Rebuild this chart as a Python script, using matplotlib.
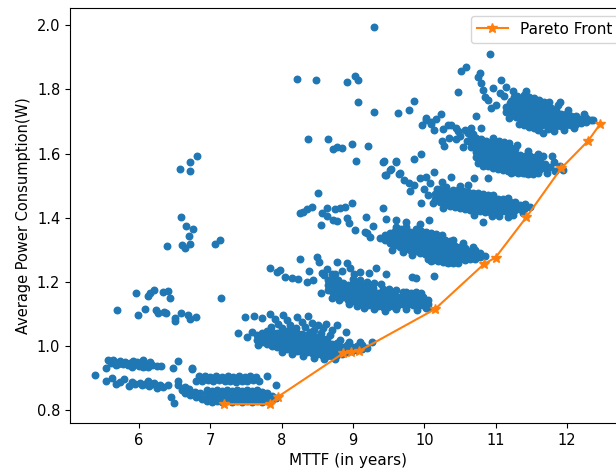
import matplotlib
matplotlib.use("Agg")
import matplotlib.pyplot as plt

# ---- scattered solutions ----
outliers = [(9.30, 1.995), (8.22, 1.832), (8.48, 1.829), (8.92, 1.822), (9.03, 1.843), (9.07, 1.831),
            (9.07, 1.762), (9.30, 1.730), (9.63, 1.727), (9.79, 1.736), (9.85, 1.764), (10.48, 1.793),
            (10.51, 1.858), (10.59, 1.871), (10.92, 1.911), (8.37, 1.644), (8.65, 1.646), (8.72, 1.615),
            (8.77, 1.621), (8.85, 1.618), (8.98, 1.629), (9.21, 1.623), (9.04, 1.577), (9.43, 1.576),
            (9.61, 1.577), (9.85, 1.582), (9.95, 1.599), (9.46, 1.532), (9.53, 1.551), (9.66, 1.539),
            (6.81, 1.591), (6.71, 1.574), (6.71, 1.547), (6.58, 1.551), (6.59, 1.401), (6.66, 1.374),
            (6.76, 1.364), (6.70, 1.342), (6.72, 1.318), (6.60, 1.314), (6.64, 1.305), (6.39, 1.312),
            (7.06, 1.317), (7.14, 1.331), (7.15, 1.151), (5.95, 1.164), (6.13, 1.157), (6.15, 1.164),
            (6.21, 1.175), (6.34, 1.170), (6.40, 1.171), (6.43, 1.149), (5.69, 1.112), (5.99, 1.097),
            (6.08, 1.115), (6.23, 1.112), (6.26, 1.102), (6.35, 1.107), (6.38, 1.104), (6.50, 1.087),
            (6.51, 1.078), (6.59, 1.102), (6.68, 1.097), (6.71, 1.083), (6.80, 1.089)]

band_a = [(5.57, 0.955), (5.60, 0.948), (5.63, 0.957), (5.66, 0.950), (5.70, 0.945), (5.73, 0.952),
          (5.77, 0.943), (5.80, 0.950), (5.84, 0.940), (5.87, 0.947), (5.91, 0.954), (5.94, 0.943),
          (5.97, 0.950), (6.00, 0.938), (6.03, 0.948), (6.06, 0.955), (6.09, 0.942), (6.12, 0.936),
          (6.15, 0.950), (6.18, 0.940), (5.54, 0.933), (6.25, 0.938), (6.30, 0.937), (6.48, 0.932),
          (6.55, 0.953), (5.38, 0.909), (5.68, 0.940), (5.90, 0.935), (6.05, 0.935),
          (5.54, 0.891), (5.62, 0.899), (5.68, 0.881), (5.79, 0.897), (5.86, 0.876), (5.94, 0.883),
          (6.01, 0.886), (6.04, 0.878), (6.12, 0.891), (6.14, 0.876), (6.18, 0.882), (6.25, 0.868),
          (6.29, 0.878), (6.33, 0.872), (6.41, 0.880), (6.54, 0.880), (6.55, 0.892), (5.73, 0.888),
          (5.90, 0.887), (6.08, 0.883), (6.45, 0.842), (6.49, 0.823), (6.64, 0.873), (6.74, 0.928),
          (6.21, 0.886)]

band_b = [(6.84, 0.905), (6.92, 0.907), (7.00, 0.903), (7.08, 0.906), (7.16, 0.904), (7.24, 0.907),
          (7.32, 0.903), (7.40, 0.905), (7.48, 0.902), (7.56, 0.906), (7.64, 0.903),
          (6.80, 0.892), (6.88, 0.890), (6.96, 0.893), (7.04, 0.891), (7.12, 0.893), (7.20, 0.890),
          (7.28, 0.892), (7.36, 0.889), (7.44, 0.892), (7.52, 0.890), (7.60, 0.893), (7.68, 0.891),
          (7.80, 0.906), (7.92, 0.880), (6.74, 0.930),
          (6.60, 0.862), (6.65, 0.855), (6.70, 0.865), (6.72, 0.848), (6.78, 0.858), (6.80, 0.842),
          (6.85, 0.852), (6.88, 0.835)]

# dense groups: (MTTF, [power values])
core_b = [(6.95, [0.828, 0.840, 0.852, 0.864]), (7.02, [0.824, 0.836, 0.848, 0.860]),
          (7.09, [0.828, 0.840, 0.852, 0.864]), (7.16, [0.824, 0.836, 0.848, 0.860]),
          (7.23, [0.828, 0.840, 0.852, 0.864]), (7.30, [0.824, 0.836, 0.848, 0.860]),
          (7.37, [0.828, 0.840, 0.852, 0.864]), (7.44, [0.824, 0.836, 0.848, 0.860]),
          (7.51, [0.828, 0.840, 0.852, 0.864]), (7.58, [0.824, 0.836, 0.848, 0.860]),
          (7.65, [0.828, 0.840, 0.852, 0.862]), (7.72, [0.824, 0.836, 0.848, 0.858]),
          (7.79, [0.828, 0.840, 0.852]), (7.86, [0.832, 0.845]), (7.92, [0.838])]

core_c = [(7.65, [1.020, 1.035]), (7.72, [1.012, 1.027, 1.042]), (7.79, [1.005, 1.020, 1.035]),
          (7.86, [1.000, 1.015, 1.030, 1.045]), (7.93, [0.998, 1.012, 1.027, 1.040]),
          (8.00, [0.995, 1.008, 1.022, 1.036]), (8.07, [0.990, 1.004, 1.018, 1.032, 1.046]),
          (8.14, [0.987, 1.001, 1.015, 1.029, 1.043]), (8.21, [0.985, 0.998, 1.012, 1.026, 1.040]),
          (8.28, [0.982, 0.995, 1.009, 1.023, 1.037]), (8.35, [0.980, 0.993, 1.006, 1.020, 1.034]),
          (8.42, [0.977, 0.990, 1.003, 1.017, 1.031]), (8.49, [0.975, 0.988, 1.001, 1.014, 1.028]),
          (8.56, [0.972, 0.985, 0.998, 1.011, 1.025]), (8.63, [0.970, 0.983, 0.996, 1.009, 1.022]),
          (8.70, [0.970, 0.982, 0.995, 1.007]), (8.77, [0.972, 0.984, 0.996, 1.008]),
          (8.84, [0.975, 0.986, 0.998]), (8.91, [0.980, 0.992, 1.004]), (8.98, [0.985, 0.997]),
          (9.05, [0.988, 1.000]), (9.12, [0.990, 1.002]), (9.19, [0.995])]

loose_c = [(7.39, 1.042), (7.49, 1.089), (7.61, 1.094), (7.72, 1.086), (7.51, 1.029), (7.58, 1.044),
           (7.67, 1.003), (7.84, 1.100), (7.90, 1.085), (7.95, 1.070), (8.02, 1.096), (8.08, 1.082),
           (8.12, 1.065), (8.21, 1.089), (8.28, 1.075), (8.37, 1.093), (8.33, 1.060), (8.42, 1.072),
           (8.51, 1.065), (8.58, 1.055), (8.62, 1.068), (8.70, 1.050), (8.77, 1.065), (8.90, 1.044),
           (9.26, 1.013), (7.85, 1.060), (8.00, 1.055), (8.20, 1.055), (8.45, 1.050),
           (8.00, 0.982), (8.15, 0.974), (8.30, 0.968), (8.45, 0.963), (8.60, 0.960), (8.75, 0.961),
           (8.40, 1.045), (8.55, 1.040), (8.68, 1.034), (8.82, 1.020), (8.95, 1.012), (9.10, 1.012),
           (7.80, 1.048)]

loose_d = [(7.84, 1.242), (7.93, 1.232), (7.98, 1.236), (8.05, 1.216), (8.14, 1.211), (8.23, 1.208),
           (8.35, 1.201), (8.44, 1.206), (8.26, 1.270), (8.39, 1.235), (8.50, 1.278), (8.53, 1.263),
           (8.56, 1.229), (8.55, 1.166), (8.78, 1.261), (8.92, 1.258), (8.96, 1.242), (8.63, 1.240),
           (8.70, 1.225), (8.85, 1.235), (9.02, 1.225), (9.10, 1.232), (9.23, 1.227), (9.32, 1.242),
           (9.47, 1.224), (9.83, 1.216), (9.88, 1.213), (10.13, 1.218), (8.60, 1.220), (8.75, 1.225),
           (9.82, 1.165), (9.95, 1.165), (10.02, 1.120),
           (9.00, 1.210), (9.10, 1.206), (9.20, 1.200), (9.30, 1.196), (9.40, 1.192), (9.50, 1.178),
           (9.60, 1.176), (9.75, 1.170), (9.88, 1.168), (8.95, 1.130), (9.05, 1.124), (9.15, 1.120),
           (9.30, 1.114), (9.45, 1.110), (9.60, 1.114), (9.75, 1.117), (9.90, 1.113), (10.05, 1.120),
           (8.80, 1.145), (8.70, 1.150)]

core_d = [(8.65, [1.175, 1.190, 1.205]), (8.72, [1.165, 1.180, 1.195, 1.210]),
          (8.79, [1.160, 1.175, 1.190, 1.205]), (8.86, [1.152, 1.167, 1.182, 1.197]),
          (8.93, [1.145, 1.160, 1.175, 1.190]), (9.00, [1.140, 1.154, 1.168, 1.182, 1.196]),
          (9.07, [1.136, 1.150, 1.164, 1.178, 1.192]), (9.14, [1.132, 1.146, 1.160, 1.174, 1.188]),
          (9.21, [1.128, 1.142, 1.156, 1.170, 1.184]), (9.28, [1.126, 1.140, 1.154, 1.168, 1.182]),
          (9.35, [1.124, 1.138, 1.152, 1.166]), (9.42, [1.122, 1.136, 1.150, 1.164, 1.178]),
          (9.49, [1.122, 1.135, 1.148, 1.162]), (9.56, [1.125, 1.138, 1.151, 1.164]),
          (9.63, [1.128, 1.141, 1.154]), (9.70, [1.130, 1.143, 1.156, 1.169]),
          (9.77, [1.130, 1.143, 1.156]), (9.84, [1.128, 1.141, 1.154]), (9.91, [1.125, 1.138, 1.150]),
          (9.98, [1.128, 1.140, 1.152]), (10.05, [1.132, 1.145])]

loose_e = [(8.63, 1.430), (8.75, 1.426), (8.72, 1.393), (8.78, 1.390), (8.91, 1.398), (8.99, 1.447),
           (8.89, 1.433), (8.95, 1.383), (9.03, 1.362), (9.18, 1.403), (9.17, 1.357), (9.28, 1.374),
           (9.24, 1.341), (9.42, 1.430), (9.46, 1.395), (9.38, 1.336), (9.61, 1.393), (9.75, 1.388),
           (9.94, 1.380), (10.06, 1.393), (9.86, 1.341), (8.25, 1.414), (8.30, 1.418), (8.36, 1.427),
           (8.43, 1.435), (8.51, 1.477), (8.57, 1.414), (8.55, 1.378), (8.64, 1.405), (8.82, 1.430),
           (9.20, 1.352), (10.10, 1.265), (10.30, 1.262),
           (10.05, 1.272), (10.12, 1.268), (10.19, 1.264), (10.26, 1.261), (10.33, 1.259), (10.40, 1.258),
           (10.47, 1.258), (9.60, 1.372), (9.67, 1.366), (9.74, 1.372), (9.88, 1.365), (9.95, 1.360),
           (10.02, 1.357), (10.09, 1.353), (10.16, 1.350), (10.25, 1.346), (10.40, 1.330), (10.55, 1.320),
           (10.68, 1.310), (9.55, 1.300), (9.70, 1.292), (9.83, 1.285)]

core_e = [(9.45, [1.330, 1.345]), (9.52, [1.322, 1.337, 1.352]), (9.59, [1.315, 1.330, 1.345, 1.360]),
          (9.66, [1.308, 1.322, 1.336, 1.350]), (9.73, [1.302, 1.316, 1.330, 1.344, 1.358]),
          (9.80, [1.298, 1.312, 1.326, 1.340, 1.354]), (9.87, [1.295, 1.309, 1.323, 1.337, 1.351]),
          (9.94, [1.290, 1.304, 1.318, 1.332, 1.346]), (10.01, [1.287, 1.301, 1.315, 1.329, 1.343]),
          (10.08, [1.283, 1.297, 1.311, 1.325, 1.339]), (10.15, [1.280, 1.294, 1.308, 1.322, 1.336]),
          (10.22, [1.277, 1.291, 1.305, 1.319, 1.333]), (10.29, [1.275, 1.289, 1.303, 1.317, 1.331]),
          (10.36, [1.272, 1.286, 1.300, 1.314, 1.328]), (10.43, [1.270, 1.284, 1.298, 1.312]),
          (10.50, [1.270, 1.283, 1.296, 1.309]), (10.57, [1.268, 1.281, 1.294, 1.307]),
          (10.64, [1.270, 1.283, 1.296]), (10.71, [1.272, 1.285, 1.298]), (10.78, [1.278, 1.291]),
          (10.85, [1.282])]

loose_f = [(9.64, 1.537), (9.71, 1.518), (9.78, 1.508), (9.85, 1.502), (9.94, 1.524), (10.03, 1.528),
           (10.13, 1.544), (10.08, 1.508), (9.52, 1.549), (9.45, 1.534), (9.42, 1.575), (9.61, 1.575),
           (9.80, 1.482), (9.96, 1.445), (10.12, 1.445), (10.37, 1.528), (10.50, 1.499), (10.62, 1.502),
           (10.70, 1.524), (10.90, 1.524), (10.82, 1.388), (11.18, 1.403), (10.00, 1.490), (10.05, 1.470),
           (10.18, 1.490), (10.25, 1.510),
           (10.40, 1.488), (10.47, 1.486), (10.54, 1.484), (10.61, 1.481), (10.68, 1.478), (10.75, 1.476),
           (10.82, 1.474), (10.89, 1.471), (10.96, 1.470), (11.03, 1.458), (11.10, 1.459), (11.17, 1.461),
           (10.95, 1.406), (11.05, 1.405), (11.25, 1.410), (11.38, 1.414), (10.70, 1.410), (10.30, 1.496),
           (10.26, 1.430)]

core_f = [(10.15, [1.460, 1.475]), (10.22, [1.448, 1.462, 1.476, 1.490]),
          (10.29, [1.440, 1.454, 1.468, 1.482]), (10.36, [1.436, 1.450, 1.464, 1.478]),
          (10.43, [1.432, 1.446, 1.460, 1.474]), (10.50, [1.430, 1.444, 1.458, 1.472]),
          (10.57, [1.428, 1.442, 1.456, 1.470]), (10.64, [1.425, 1.439, 1.453, 1.467]),
          (10.71, [1.422, 1.436, 1.450, 1.464]), (10.78, [1.420, 1.434, 1.448, 1.462]),
          (10.85, [1.418, 1.432, 1.446, 1.460]), (10.92, [1.418, 1.431, 1.444, 1.457]),
          (10.99, [1.420, 1.433, 1.446, 1.459]), (11.06, [1.418, 1.431, 1.444]),
          (11.13, [1.420, 1.433, 1.446]), (11.20, [1.422, 1.435, 1.448]),
          (11.27, [1.424, 1.437, 1.450]), (11.34, [1.426, 1.440]), (11.41, [1.430, 1.443]),
          (11.48, [1.432])]

loose_g = [(10.02, 1.710), (10.10, 1.700), (10.17, 1.707), (10.13, 1.674), (10.23, 1.725), (10.27, 1.676),
           (10.33, 1.690), (10.38, 1.690), (10.44, 1.680), (10.48, 1.669), (10.57, 1.674), (10.62, 1.665),
           (10.66, 1.680), (10.73, 1.716), (10.80, 1.679), (10.55, 1.622), (10.35, 1.650), (10.45, 1.645),
           (10.25, 1.640), (10.28, 1.624), (9.97, 1.689), (10.03, 1.706), (10.09, 1.693), (10.50, 1.655),
           (11.72, 1.538), (11.79, 1.591), (11.90, 1.560), (10.83, 1.560), (11.22, 1.538), (11.41, 1.538),
           (11.84, 1.545), (11.95, 1.550),
           (10.90, 1.560), (10.97, 1.555), (11.04, 1.552), (11.11, 1.548), (11.18, 1.545), (11.25, 1.543),
           (11.32, 1.540), (11.39, 1.540), (11.46, 1.536), (11.53, 1.537), (11.60, 1.538), (10.76, 1.570),
           (10.83, 1.575), (11.05, 1.640), (11.12, 1.637), (11.19, 1.632), (10.96, 1.648), (11.30, 1.628),
           (11.45, 1.608), (11.60, 1.600), (11.66, 1.592), (11.82, 1.575), (10.60, 1.640), (10.68, 1.662)]

core_g = [(10.65, [1.620, 1.635, 1.650]), (10.72, [1.590, 1.605, 1.620, 1.635, 1.650]),
          (10.79, [1.585, 1.600, 1.615, 1.630, 1.645]), (10.86, [1.580, 1.595, 1.610, 1.625, 1.640]),
          (10.93, [1.575, 1.590, 1.605, 1.620, 1.635]), (11.00, [1.570, 1.585, 1.600, 1.615, 1.630]),
          (11.07, [1.568, 1.582, 1.596, 1.610, 1.624]), (11.14, [1.565, 1.579, 1.593, 1.607, 1.621]),
          (11.21, [1.560, 1.574, 1.588, 1.602, 1.616]), (11.28, [1.558, 1.572, 1.586, 1.600, 1.614]),
          (11.35, [1.555, 1.569, 1.583, 1.597]), (11.42, [1.552, 1.566, 1.580, 1.594]),
          (11.49, [1.550, 1.564, 1.578, 1.592]), (11.56, [1.550, 1.563, 1.576, 1.589]),
          (11.63, [1.552, 1.565, 1.578]), (11.70, [1.555, 1.568]), (11.77, [1.558])]

loose_h = [(10.78, 1.851), (10.76, 1.840), (10.80, 1.820), (10.83, 1.799), (10.85, 1.778), (10.90, 1.768),
           (10.94, 1.741), (11.00, 1.750), (11.08, 1.830), (11.15, 1.809), (11.25, 1.794), (11.06, 1.788),
           (11.20, 1.757), (11.43, 1.794), (10.97, 1.804), (11.12, 1.780), (11.30, 1.780),
           (11.48, 1.690), (11.67, 1.664), (11.60, 1.675), (12.37, 1.705), (11.90, 1.760), (11.75, 1.760),
           (11.33, 1.692), (11.40, 1.688), (11.47, 1.684), (11.54, 1.680), (11.40, 1.782), (11.47, 1.778),
           (11.54, 1.772), (11.61, 1.768), (11.68, 1.760), (11.26, 1.778), (11.19, 1.712), (11.82, 1.672),
           (11.96, 1.674), (12.10, 1.680), (12.02, 1.736), (11.88, 1.750), (12.24, 1.722), (11.62, 1.685),
           (11.74, 1.676)]

core_h = [(11.15, [1.730, 1.745]), (11.22, [1.720, 1.735, 1.750, 1.765]),
          (11.29, [1.715, 1.730, 1.745, 1.760]), (11.36, [1.710, 1.725, 1.740, 1.755, 1.770]),
          (11.43, [1.705, 1.720, 1.735, 1.750, 1.765]), (11.50, [1.700, 1.715, 1.730, 1.745, 1.760]),
          (11.57, [1.695, 1.710, 1.725, 1.740, 1.755]), (11.64, [1.690, 1.705, 1.720, 1.735, 1.750]),
          (11.71, [1.688, 1.702, 1.716, 1.730, 1.744]), (11.78, [1.685, 1.699, 1.713, 1.727, 1.741]),
          (11.85, [1.685, 1.698, 1.711, 1.724, 1.737]), (11.92, [1.686, 1.699, 1.712, 1.725]),
          (11.99, [1.688, 1.700, 1.712, 1.724]), (12.06, [1.690, 1.703, 1.716]),
          (12.13, [1.692, 1.705, 1.718]), (12.20, [1.695, 1.708]), (12.27, [1.700, 1.712]),
          (12.34, [1.705])]

# ---- Pareto front ----
pareto_mttf = [7.19, 7.83, 7.95, 8.86, 8.97, 9.09, 10.15, 10.84, 11.00, 11.43, 11.92, 12.30, 12.47]
pareto_power = [0.819, 0.819, 0.842, 0.977, 0.980, 0.985, 1.115, 1.256, 1.276, 1.401, 1.554, 1.640, 1.693]

pairs = outliers + band_a + band_b + loose_c + loose_d + loose_e + loose_f + loose_g + loose_h
for grp in (core_b, core_c, core_d, core_e, core_f, core_g, core_h):
    for xv, ys in grp:
        pairs += [(xv, yv) for yv in ys]
sol_x = [p[0] for p in pairs]
sol_y = [p[1] for p in pairs]

plt.rcParams['font.size'] = 11
fig = plt.figure(figsize=(6.16, 4.73), dpi=100)
ax = fig.add_axes([0.1136, 0.1057, 0.9026, 0.8774])
ax.scatter(sol_x, sol_y, s=22, color='#1f77b4', zorder=2)
ax.plot(pareto_mttf, pareto_power, color='#ff7f0e', marker='*', markersize=7,
        linewidth=1.5, label='Pareto Front', zorder=3)
ax.set_xlim(5.03, 12.83)
ax.set_ylim(0.760, 2.054)
ax.set_xticks([6, 7, 8, 9, 10, 11, 12])
ax.set_yticks([0.8, 1.0, 1.2, 1.4, 1.6, 1.8, 2.0])
ax.tick_params(labelsize=10.5)
ax.set_xlabel('MTTF (in years)', fontsize=11)
ax.set_ylabel('Average Power Consumption(W)', fontsize=10.5)
ax.legend(loc='upper right', fontsize=11)
fig.savefig('out.png', dpi=100)
